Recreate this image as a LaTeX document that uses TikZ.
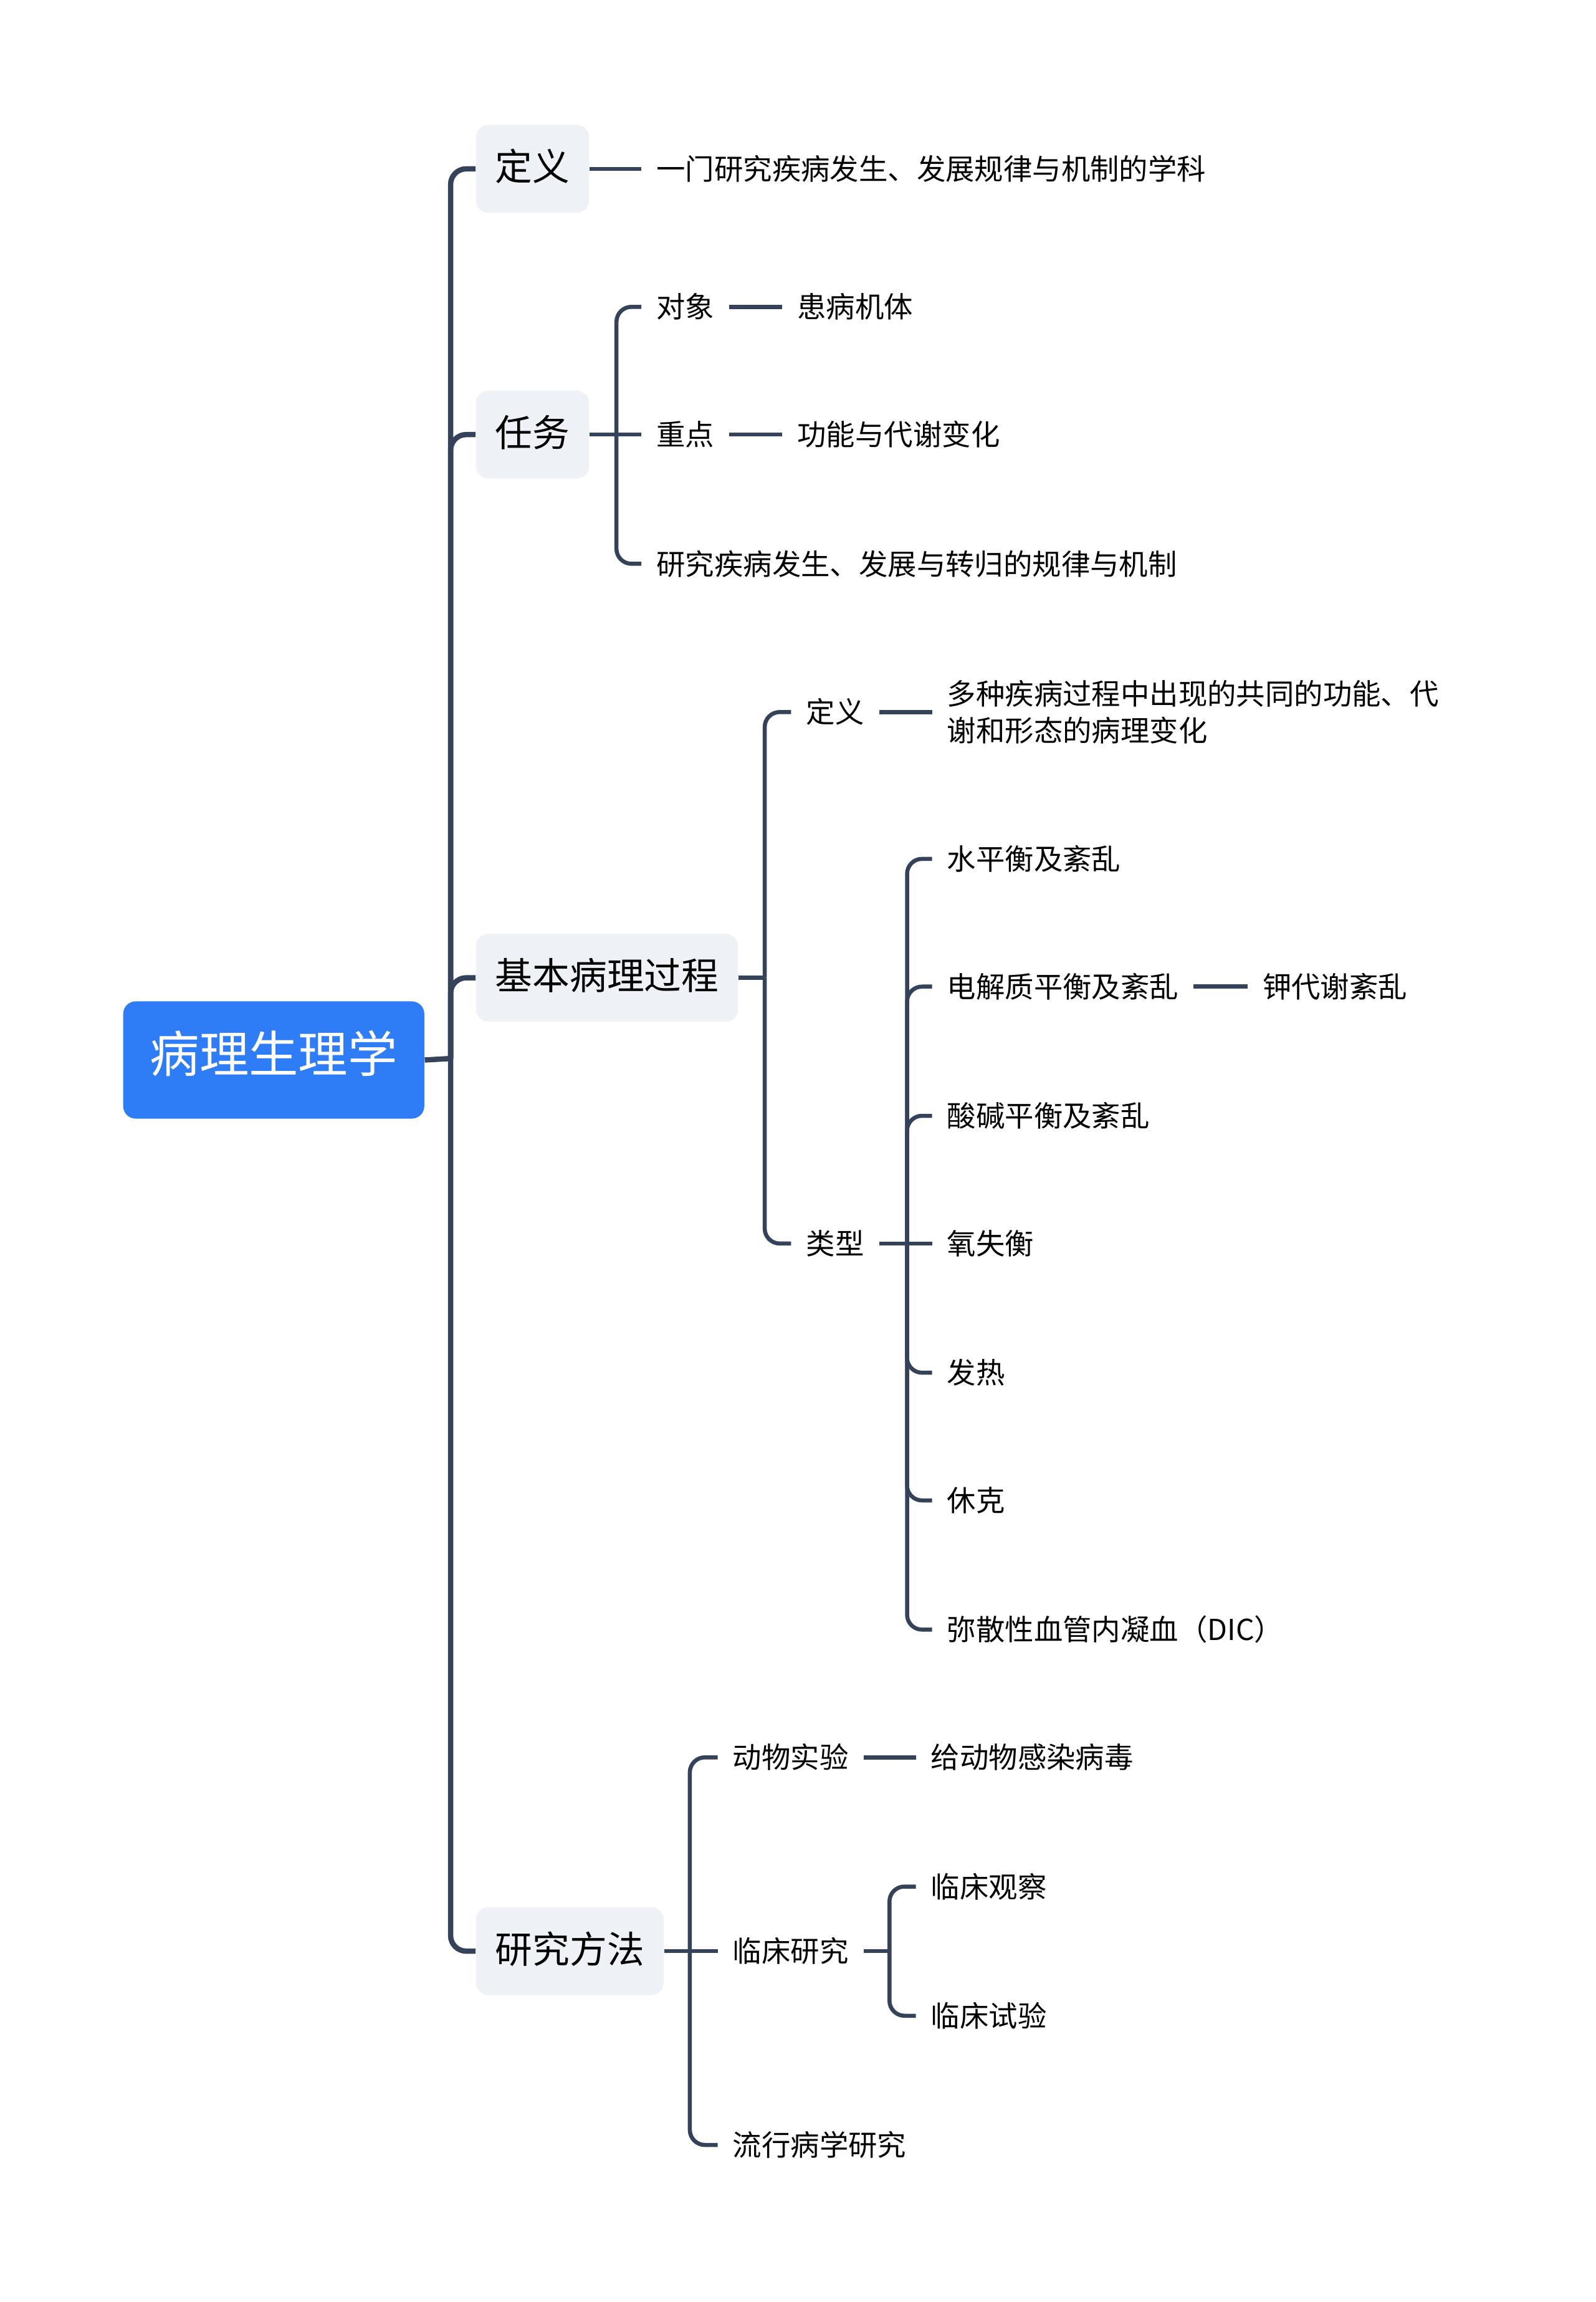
\documentclass[tikz,border=0pt]{standalone}
\usepackage{fontspec}
\setmainfont{Noto Sans CJK SC}
\usetikzlibrary{calc}

\definecolor{linecol}{RGB}{52,66,90}
\definecolor{rootblue}{RGB}{46,124,246}
\definecolor{topicgray}{RGB}{238,241,245}

\begin{document}
\begin{tikzpicture}[x=0.02355cm,y=-0.02355cm]

    \tikzstyle{rootbox}+=[
        fill=rootblue,
        text=white,
        rounded corners=2mm,
        minimum width=4.83cm,
        minimum height=1.88cm,
        font=\fontsize{22.6}{26}\selectfont,
        text height=1.14em,
        text depth=0em
    ]
    \tikzstyle{topic}+=[
        fill=topicgray,
        rounded corners=2mm,
        minimum height=1.41cm,
        inner xsep=3.1mm,
        anchor=west,
        font=\fontsize{17}{20}\selectfont,
        text height=1.08em,
        text depth=0em
    ]
    \tikzstyle{leaf}+=[
        inner xsep=2.35mm,
        inner ysep=0pt,
        anchor=west,
        font=\fontsize{13.2}{16.7}\selectfont
    ]
    \tikzstyle{oneline}+=[
        leaf,
        text height=1.0em,
        text depth=0em
    ]
    \tikzstyle{trunk}+=[
        draw=linecol,
        line width=0.085cm,
        rounded corners=2.5mm
    ]
    \tikzstyle{twig}+=[
        draw=linecol,
        line width=0.065cm,
        rounded corners=2.4mm
    ]

    \useasboundingbox (0,0) rectangle (1087,1568);

    % ----------------------------------------------------------------------------
    \coordinate(rootjoint) at (307,721);
    \coordinate(taskjoint) at (420,296);
    \coordinate(procjoint) at (521,666);
    \coordinate(typejoint) at (618,847);
    \coordinate(methjoint) at (470,1329);
    \coordinate(clinjoint) at (606,1329);

    % ----------------------------------------------------------------------------
    \node[rootbox] (root) at (186.5,722) {病理生理学};
    \node[topic] (tdef) at (324,115) {定义};
    \node[topic] (ttask) at (324,296) {任务};
    \node[topic] (tproc) at (324,666) {基本病理过程};
    \node[topic] (tmeth) at (324,1329) {研究方法};

    % ----------------------------------------------------------------------------
    \node[oneline] (ldef) at (437,115) {一门研究疾病发生、发展规律与机制的学科};
    \node[oneline] (lobj) at (437,209) {对象};
    \node[oneline] (lobjv) at (533,209) {患病机体};
    \node[oneline] (lfocus) at (437,296) {重点};
    \node[oneline] (lfocusv) at (533,296) {功能与代谢变化};
    \node[oneline] (lstudy) at (437,384) {研究疾病发生、发展与转归的规律与机制};

    % ----------------------------------------------------------------------------
    \node[oneline] (pdef) at (539,485) {定义};
    \node[leaf,align=left] (pdefv) at (635,485) {多种疾病过程中出现的共同的功能、代\\谢和形态的病理变化};
    \node[oneline] (ptype) at (539,847) {类型};
    \node[oneline] (ty1) at (635,585) {水平衡及紊乱};
    \node[oneline] (ty2) at (635,672) {电解质平衡及紊乱};
    \node[oneline] (ty2v) at (850,672) {钾代谢紊乱};
    \node[oneline] (ty3) at (635,760) {酸碱平衡及紊乱};
    \node[oneline] (ty4) at (635,847) {氧失衡};
    \node[oneline] (ty5) at (635,935) {发热};
    \node[oneline] (ty6) at (635,1022) {休克};
    \node[oneline] (ty7) at (635,1110) {弥散性血管内凝血（DIC）};

    % ----------------------------------------------------------------------------
    \node[oneline] (manim) at (489,1197) {动物实验};
    \node[oneline] (manimv) at (624,1197) {给动物感染病毒};
    \node[oneline] (mclin) at (489,1329) {临床研究};
    \node[oneline] (mobs) at (624,1285) {临床观察};
    \node[oneline] (mtrial) at (624,1373) {临床试验};
    \node[oneline] (mepi) at (489,1461) {流行病学研究};

    % ----------------------------------------------------------------------------
    \draw[trunk] (root.east) -- (rootjoint);
    \foreach \t in {tdef,ttask,tproc,tmeth}
        \draw[trunk] (rootjoint) |- (\t.west);

    % ----------------------------------------------------------------------------
    \draw[twig] (tdef.east) -- (ldef.west);
    \draw[twig] (ttask.east) -- (lfocus.west);
    \draw[twig] (taskjoint) |- (lobj.west);
    \draw[twig] (taskjoint) |- (lstudy.west);
    \draw[twig] (lobj.east) -- (lobjv.west);
    \draw[twig] (lfocus.east) -- (lfocusv.west);

    % ----------------------------------------------------------------------------
    \draw[twig] (tproc.east) -- (procjoint);
    \draw[twig] (procjoint) |- (pdef.west);
    \draw[twig] (procjoint) |- (ptype.west);
    \draw[twig] (pdef.east) -- (pdefv.west);
    \draw[twig] (ptype.east) -- (ty4.west);
    \foreach \t in {ty1,ty2,ty3,ty5,ty6,ty7}
        \draw[twig] (typejoint) |- (\t.west);
    \draw[twig] (ty2.east) -- (ty2v.west);

    % ----------------------------------------------------------------------------
    \draw[twig] (tmeth.east) -- (mclin.west);
    \draw[twig] (methjoint) |- (manim.west);
    \draw[twig] (methjoint) |- (mepi.west);
    \draw[twig] (manim.east) -- (manimv.west);
    \draw[twig] (mclin.east) -- (clinjoint);
    \draw[twig] (clinjoint) |- (mobs.west);
    \draw[twig] (clinjoint) |- (mtrial.west);

\end{tikzpicture}
\end{document}
